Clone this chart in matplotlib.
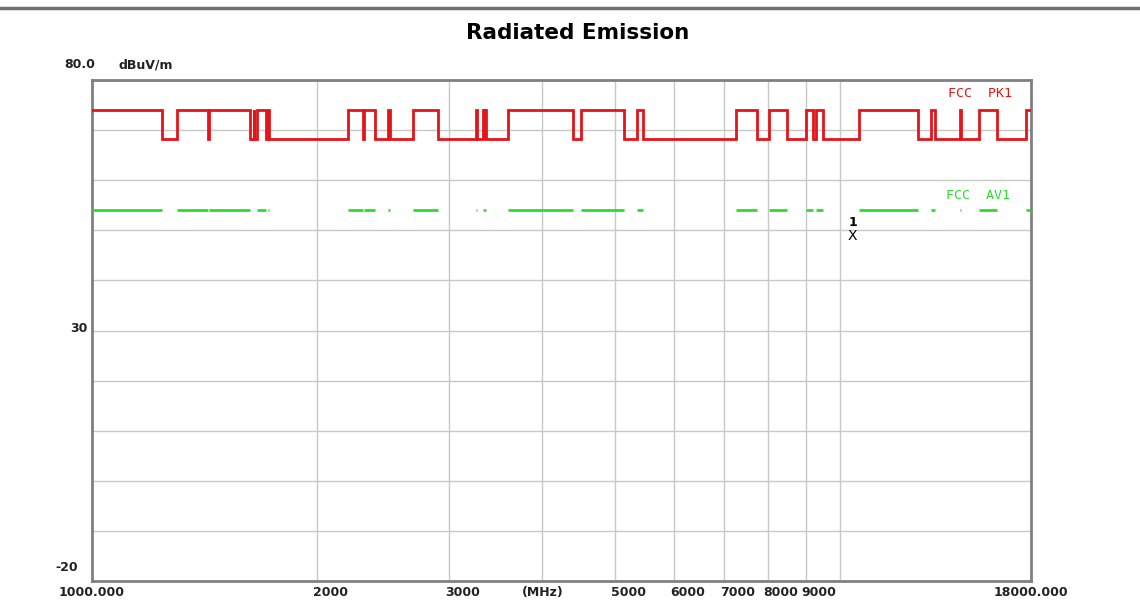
import matplotlib
matplotlib.use("Agg")
import matplotlib.pyplot as plt
from matplotlib.lines import Line2D
import matplotlib.transforms as mtransforms

# ---- data ----
band_start = [1000, 1300, 1435, 1645.5, 1660, 1718.8, 2200, 2310, 2483.5, 2690,
              3260, 3332, 3345.8, 3600, 4500, 5350, 7250, 8025, 9000, 9300,
              10600, 13250, 14470, 15350, 17700]
band_end = [1240, 1427, 1626.5, 1646.5, 1710, 1722.2, 2300, 2390, 2500, 2900,
            3267, 3339, 3358, 4400, 5150, 5460, 7750, 8500, 9200, 9500,
            12700, 13400, 14500, 16200, 18000]
pk_in = 74.0      # FCC PK1 inside restricted bands
pk_out = 68.2     # FCC PK1 outside restricted bands
av_level = 54.0   # FCC AV1
marker_freq = [10400]
marker_level = [48.8]
marker_names = ["1"]
f_min, f_max = 1000, 18000
y_min, y_max = -20, 80
grid_freqs = [2000, 3000, 4000, 5000, 6000, 7000, 8000, 9000, 10000]
tick_freqs = [2000, 3000, 4000, 5000, 6000, 7000, 8000, 9000]
tick_texts = ["2000", "3000", "(MHz)", "5000", "6000", "7000", "8000", "9000"]

RED = "#e41418"
GREEN = "#2edc2e"
GRID = "#c8c8c8"
SPINE = "#808080"

fig = plt.figure(figsize=(11.4, 6.05), dpi=100)
fig.patch.set_facecolor("white")
ax = fig.add_axes([92 / 1140, 1 - 581 / 605, (1031 - 92) / 1140, (581 - 80) / 605])
ax.set_xscale("log")
ax.set_xlim(f_min, f_max)
ax.set_ylim(y_min, y_max)

# grid
for y in range(y_min + 10, y_max, 10):
    ax.axhline(y, color=GRID, lw=1, zorder=1)
for f in grid_freqs:
    ax.axvline(f, color=GRID, lw=1, zorder=1)

# PK1 step line
xs, ys = [f_min], [pk_in if band_start[0] <= f_min else pk_out]
for s, e in zip(band_start, band_end):
    if s > f_min:
        xs += [s, s]
        ys += [pk_out, pk_in]
    if e < f_max:
        xs += [e, e]
        ys += [pk_in, pk_out]
xs.append(f_max)
ys.append(ys[-1])
ax.plot(xs, ys, color=RED, lw=2, zorder=3, solid_joinstyle="miter")

# AV1 segments
for s, e in zip(band_start, band_end):
    ax.plot([s, e], [av_level, av_level], color=GREEN, lw=2, zorder=3,
            solid_capstyle="butt")

# marker
for f, lv, nm in zip(marker_freq, marker_level, marker_names):
    ax.text(f, lv, "X", color="black", fontsize=10, ha="center", va="center",
            family="DejaVu Sans", zorder=4)
    ax.text(f, lv + 2.8, nm, color="black", fontsize=9, ha="center", va="center",
            family="DejaVu Sans", fontweight="bold", zorder=4)

ax.text(0.98, 0.973, "FCC  PK1", transform=ax.transAxes, color=RED, fontsize=9.5,
        ha="right", va="center", family="DejaVu Sans Mono")
ax.text(0.978, 0.77, "FCC  AV1", transform=ax.transAxes, color=GREEN, fontsize=9.5,
        ha="right", va="center", family="DejaVu Sans Mono")

for sp in ax.spines.values():
    sp.set_color(SPINE)
    sp.set_linewidth(2)
ax.set_xticks([])
ax.set_yticks([])
ax.xaxis.set_minor_locator(matplotlib.ticker.NullLocator())

# x tick labels
tb = mtransforms.blended_transform_factory(ax.transData, ax.transAxes)
lab_kw = dict(fontsize=9, fontweight="bold", family="DejaVu Sans", color="#222222")
for f, t in zip(tick_freqs, tick_texts):
    tr = mtransforms.offset_copy(tb, fig=fig, x=-4, y=0, units="dots")
    if t == "(MHz)":
        ax.text(f, -0.01, t, transform=tb, ha="center", va="top", **lab_kw)
    else:
        ax.text(f, -0.01, t, transform=tr, ha="left", va="top", **lab_kw)
ax.text(f_min, -0.01, "1000.000", transform=tb, ha="center", va="top", **lab_kw)
ax.text(f_max, -0.01, "18000.000", transform=tb, ha="center", va="top", **lab_kw)

# y labels
ty = mtransforms.blended_transform_factory(ax.transAxes, ax.transData)
ax.text(-0.005, 30.3, "30", transform=ty, ha="right", va="center", **lab_kw)
ax.text(-0.015, y_min + 2.6, "-20", transform=ty, ha="right", va="center", **lab_kw)
ax.text(0.003, y_max + 3, "80.0", transform=ty, ha="right", va="center", **lab_kw)
ax.text(0.028, y_max + 3, "dBuV/m", transform=ty, ha="left", va="center", **lab_kw)

fig.text(578 / 1140, 1 - 33 / 605, "Radiated Emission", ha="center", va="center",
         fontsize=15.5, fontweight="bold", family="DejaVu Sans")

fig.add_artist(Line2D([0, 1], [1 - 8 / 605, 1 - 8 / 605], color="#707070", lw=2.5,
                      transform=fig.transFigure))

fig.savefig("out.png", dpi=100, facecolor="white")
